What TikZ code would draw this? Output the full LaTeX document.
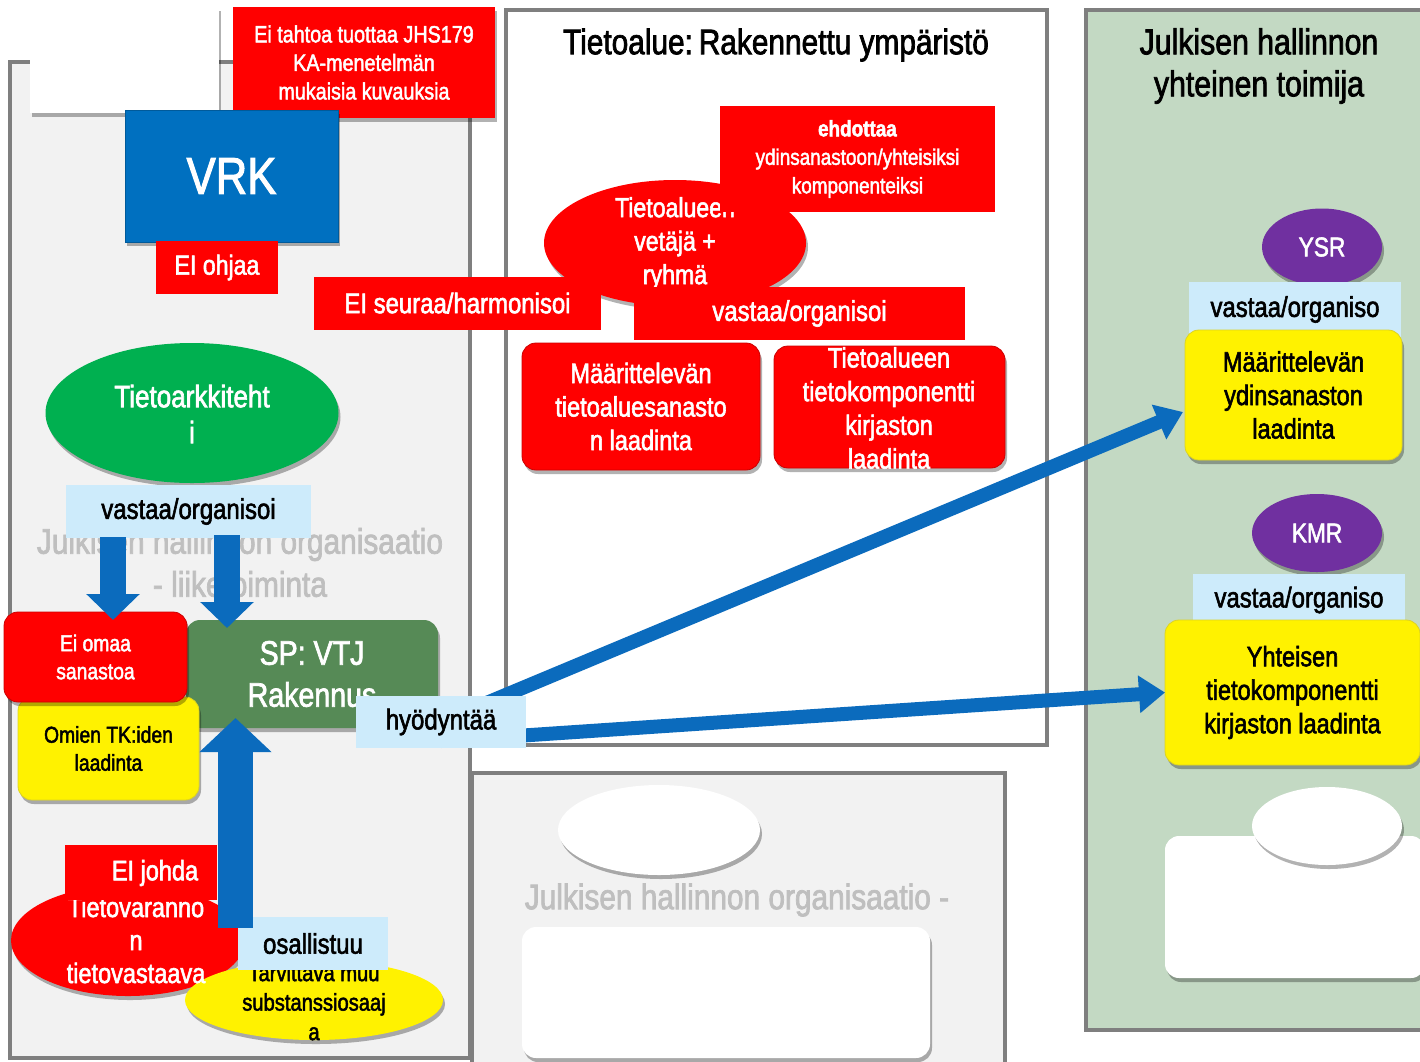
\documentclass[tikz,border=0pt]{standalone}
\usepackage{fontspec}
\setmainfont{Liberation Sans}[FakeStretch=0.84, FakeBold=2]
\usetikzlibrary{shapes.geometric,shadows,arrows.meta,calc}
\definecolor{pgray}{HTML}{7F7F7F}
\definecolor{lgray}{HTML}{F2F2F2}
\definecolor{pgreen}{HTML}{C3D9C3}
\definecolor{vblue}{HTML}{0070C0}
\definecolor{ablue}{HTML}{0B6BBD}
\definecolor{egreen}{HTML}{00B050}
\definecolor{spgreen}{HTML}{568A56}
\definecolor{purp}{HTML}{7030A0}
\definecolor{lblue}{HTML}{CDEBFB}
\definecolor{fade}{HTML}{BFBFBF}
\newcommand\setfs[2]{\fontsize{#1}{#2}\selectfont}
\begin{document}
\begin{tikzpicture}[x=1pt,y=-1pt,
  every node/.style={inner sep=0pt, outer sep=0pt, align=center},
  sh/.style={drop shadow={shadow xshift=2pt, shadow yshift=-4pt, opacity=0.3, fill=black}},
  panel/.style={draw=pgray, line width=4.5pt, fill=lgray},
  redrect/.style={fill=red, text=white},
  redround/.style={fill=red, draw=red!80!black, line width=0.8pt, text=white, rounded corners=14pt, sh},
  ybox/.style={fill=yellow, draw=yellow!85!black, line width=0.8pt, text=black, rounded corners=14pt, sh},
  lbl/.style={fill=lblue, text=black, font=\setfs{28.5}{33}},
  oval/.style={ellipse, sh},
  downarrow/.style={draw=ablue, line width=26pt, -{Triangle[width=52pt,length=26pt]}},
  uparrow/.style={draw=ablue, line width=35pt, -{Triangle[width=70pt,length=34pt]}},
  diagarrow/.style={draw=ablue, line width=14pt, -{Triangle[width=36pt,length=26pt]}},
]
\clip (0,0) rectangle (1420,1061);
\fill[white] (0,0) rectangle (1420,1061);

% panels
\node[panel, minimum width=460pt, minimum height=996pt] (leftp) at (240,560) {};
\node[panel, fill=white, minimum width=541pt, minimum height=735pt] (cenp) at (776.5,377.5) {};
\node[panel, minimum width=533pt, minimum height=302pt] (lowp) at (738.5,924) {};
\node[panel, fill=pgreen, minimum width=354pt, minimum height=1020pt] (rightp) at (1263,520) {};

% top left
\node[fill=white, sh, minimum width=189pt, minimum height=106pt] (wtop) at (124.5,60) {};
\node[redrect, sh, minimum width=262pt, minimum height=111pt, font=\setfs{23.5}{28.5}] (jhs) at (364,62.5) {Ei tahtoa tuottaa JHS179\\KA-menetelmän\\mukaisia kuvauksia};
\node[fill=vblue, draw=vblue!80!black, line width=1pt, sh, text=white, minimum width=213pt, minimum height=132pt, font=\setfs{52}{52}] (vrk) at (231.5,176) {VRK};
\node[redrect, minimum width=122pt, minimum height=53pt, font=\setfs{27.5}{30}] (eiohjaa) at (217,267.5) {EI ohjaa};

% centre
\node[font=\setfs{35.5}{40}] (ctitle) at (776,45) {Tietoalue:\,Rakennettu ympäristö};
\node[oval, fill=red, minimum width=262pt, minimum height=126pt] (vetaja) at (675,243) {};
\node[text=white, font=\setfs{27.5}{33.5}] (vetajat) at (675,243.5) {Tietoalueen\\vetäjä +\\ryhmä};
\node[redrect, minimum width=275pt, minimum height=106pt, font=\setfs{22.5}{28.5}] (ehd) at (857.5,159) {\textbf{ehdottaa}\\ydinsanastoon/yhteisiksi\\komponenteiksi};
\node[redrect, minimum width=331pt, minimum height=53pt, font=\setfs{28.5}{33}] (vorg) at (799.5,313.5) {vastaa/organisoi};
\node[redrect, minimum width=287pt, minimum height=53pt, font=\setfs{28.5}{33}] (eiseur) at (457.5,303) {EI seuraa/harmonisoi};
\node[redround, minimum width=238pt, minimum height=127pt, font=\setfs{28}{33.5}] (maar1) at (641,406.5) {Määrittelevän\\tietoaluesanasto\\n laadinta};
\node[redround, minimum width=231pt, minimum height=122pt] (tk1) at (889.5,407) {};
\node[text=white, font=\setfs{28}{33.7}] (tk1t) at (889,408) {Tietoalueen\\tietokomponentti\\kirjaston\\laadinta};

% right
\node[font=\setfs{36}{42}] (rtitle) at (1259,66) {Julkisen hallinnon\\yhteinen toimija};
\node[oval, fill=purp, text=white, minimum width=120pt, minimum height=77pt, font=\setfs{27}{30}] (ysr) at (1322,247) {YSR};
\node[lbl, minimum width=212pt, minimum height=55pt] (ysrl) at (1295,309.5) {vastaa/organiso};
\node[ybox, minimum width=217pt, minimum height=130pt, font=\setfs{28}{33.5}] (yel1) at (1293.5,395) {Määrittelevän\\ydinsanaston\\laadinta};
\node[oval, fill=purp, text=white, minimum width=130pt, minimum height=78pt, font=\setfs{27}{30}] (kmr) at (1317,533) {KMR};
\node[lbl, minimum width=212pt, minimum height=52pt] (kmrl) at (1299,600) {vastaa/organiso};
\node[ybox, minimum width=255pt, minimum height=145pt, font=\setfs{28}{33.5}] (yel2) at (1292.5,692.5) {Yhteisen\\tietokomponentti\\kirjaston laadinta};
\node[fill=white, rounded corners=14pt, sh, minimum width=260pt, minimum height=142pt] (wbox2) at (1295,907) {};
\node[oval, fill=white, minimum width=150pt, minimum height=78pt] (wov2) at (1327,826) {};

% lower centre
\node[oval, fill=white, minimum width=202pt, minimum height=90pt] (wov1) at (659,830) {};
\node[text=fade, font=\setfs{35.5}{40}] (fade2) at (737,900) {Julkisen hallinnon organisaatio -};
\node[fill=white, rounded corners=14pt, sh, minimum width=408pt, minimum height=131pt] (wbox1) at (726,992.5) {};

% left
\node[oval, fill=egreen, minimum width=293pt, minimum height=140pt] (arch) at (192,413) {};
\node[text=white, font=\setfs{31}{36}] (archt) at (192,414) {Tietoarkkiteht\\i};
\node[text=fade, font=\setfs{35.5}{43}] (fade1) at (240,562.5) {Julkisen hallinnon organisaatio\\- liiketoiminta};
\node[lbl, minimum width=245pt, minimum height=53pt] (lblv) at (188.5,511.5) {vastaa/organisoi};

\node[fill=spgreen, rounded corners=14pt, sh, text=white, minimum width=252pt, minimum height=108pt, font=\setfs{34}{42}] (sp) at (312,674) {SP: VTJ\\Rakennus};
\node[ybox, minimum width=181pt, minimum height=103pt, font=\setfs{23}{28}] (omien) at (108.5,748.5) {Omien TK:iden\\laadinta};
\node[redround, minimum width=183pt, minimum height=90pt, font=\setfs{23}{28}] (eiomaa) at (95.5,657) {Ei omaa\\sanastoa};

\coordinate (d1) at (113,537);
\coordinate (d2) at (227,535);
\draw[downarrow] (d1) -- ($(d1 |- eiomaa.north)+(0,8)$);
\draw[downarrow] (d2) -- ($(d2 |- sp.north)+(0,8)$);

% bottom left
\node[oval, fill=red, minimum width=234pt, minimum height=111pt] (tvv) at (128,940.5) {};
\node[oval, fill=yellow, minimum width=258pt, minimum height=80pt] (tarv) at (314,1000) {};
\node[text=white, font=\setfs{28}{33}] (tvvt) at (136,940) {Tietovaranno\\n\\tietovastaava};
\node[redrect, minimum width=152pt, minimum height=55pt] (eij) at (141,872.5) {};
\node[text=white, font=\setfs{28}{33}] (eijt) at (155,873) {EI johda};
\node[text=black, font=\setfs{24}{29.5}] (tarvt) at (314,1002) {Tarvittava muu\\substanssiosaaj\\a};
\node[lbl, minimum width=150pt, minimum height=53pt] (osal) at (313,943.5) {osallistuu};
\coordinate (upT) at (235.5,928);
\draw[uparrow] (upT) -- ($(upT |- sp.south)+(0,-10)$);

% diagonal connectors
\coordinate (hydc) at (441,722);
\draw[diagarrow] (hydc) -- ($(yel1.west)+(-2,17)$);
\draw[diagarrow] ($(hydc)+(0,19)$) -- (yel2.west);
\node[lbl, minimum width=170pt, minimum height=52pt] (hyd) at (hydc) {hyödyntää};
\end{tikzpicture}
\end{document}
